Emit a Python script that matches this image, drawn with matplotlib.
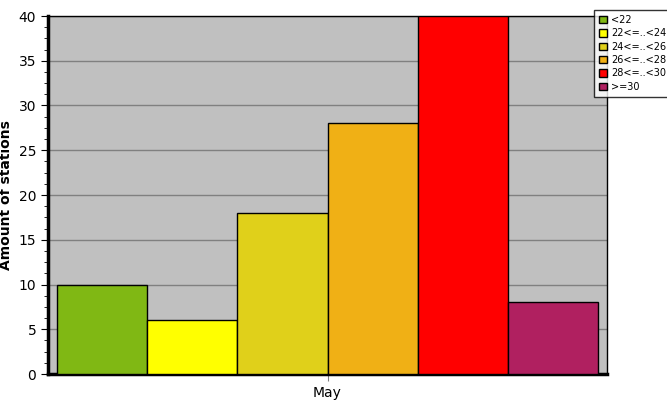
import numpy as np
import matplotlib
matplotlib.use('Agg')
import matplotlib.pyplot as plt
from matplotlib.ticker import MultipleLocator

# data
categories = ['<22', '22<=..<24', '24<=..<26', '26<=..<28', '28<=..<30', '>=30']
counts = [10, 6, 18, 28, 40, 8]
colors = ['#80b814', '#ffff00', '#e0d01a', '#f0b015', '#ff0000', '#b02060']
month = 'May'

fig = plt.figure(figsize=(6.67, 4.15), dpi=100)
ax = fig.add_axes([48 / 667, 41 / 415, 559 / 667, 358 / 415])
ax.set_facecolor('#c0c0c0')

x = np.arange(len(categories))
ax.bar(x, counts, width=1.0, color=colors, edgecolor='black', linewidth=1,
       label=categories, zorder=3)

ax.set_xlim(-0.6, len(categories) - 0.4)
ax.set_ylim(0, 40)
ax.yaxis.set_major_locator(MultipleLocator(5))
ax.yaxis.set_minor_locator(MultipleLocator(1.25))
ax.grid(axis='y', which='major', color='#808080', linewidth=1, zorder=1)

ax.set_xticks([(len(categories) - 1) / 2])
ax.set_xticklabels([month])
ax.tick_params(axis='x', color='#808080', length=5, labelsize=10)
ax.tick_params(axis='y', which='major', length=5, labelsize=10)
ax.tick_params(axis='y', which='minor', length=3)

ax.set_ylabel('Amount of stations', fontsize=10, fontweight='bold')

for s in ['left', 'bottom']:
    ax.spines[s].set_linewidth(2.5)
for s in ['top', 'right']:
    ax.spines[s].set_linewidth(1)

leg = fig.legend(loc='upper left', bbox_to_anchor=(594 / 667, 1 - 10 / 415),
                 fontsize=7, frameon=True, fancybox=False, edgecolor='black',
                 handlelength=0.8, handleheight=0.8, handletextpad=0.5,
                 labelspacing=0.35, borderpad=0.5, borderaxespad=0)
leg.get_frame().set_linewidth(1)

fig.savefig('out.png', dpi=100)
